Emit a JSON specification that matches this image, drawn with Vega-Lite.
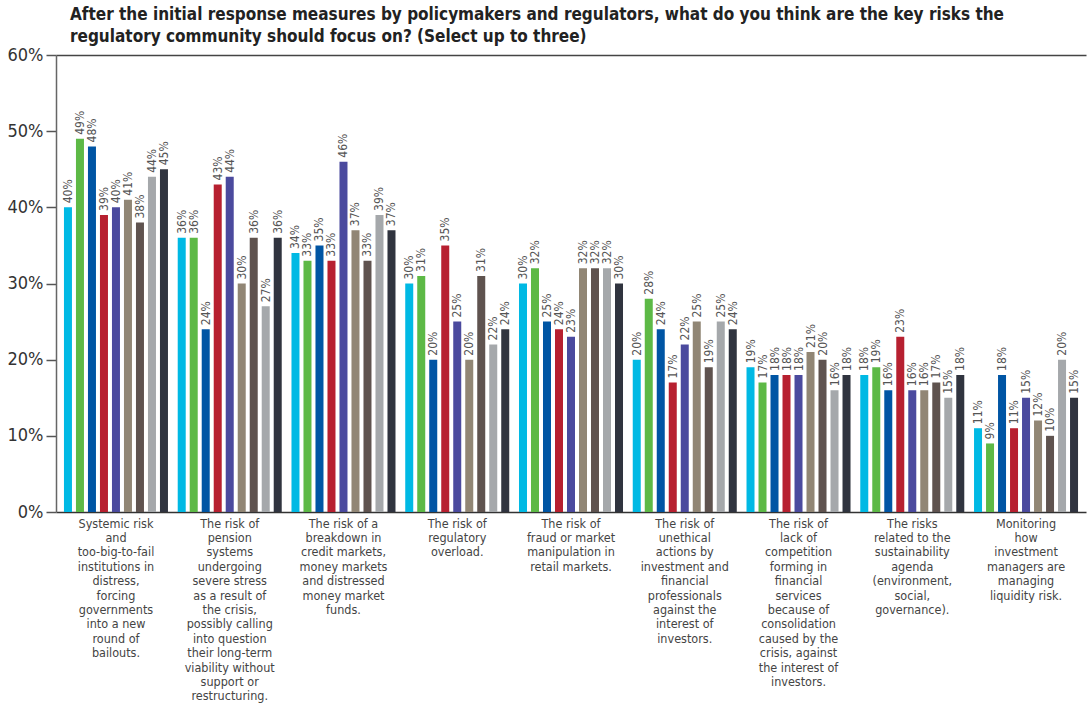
{
  "$schema": "https://vega.github.io/schema/vega-lite/v6.json",
  "width": 1030,
  "height": 457,
  "autosize": {"type": "none"},
  "padding": {"left": 56, "top": 55, "right": 1, "bottom": 194},
  "background": "white",
  "title": {
    "text": ["After the initial response measures by policymakers and regulators, what do you think are the key risks the", "regulatory community should focus on? (Select up to three)"],
    "anchor": "start",
    "frame": "group",
    "dx": 14,
    "offset": 0,
    "font": "Liberation Sans Narrow, DejaVu Sans Condensed, Roboto",
    "fontSize": 17,
    "fontWeight": "bold",
    "color": "#222222",
    "lineHeight": 22
  },
  "config": {
    "view": {"stroke": null},
    "font": "Liberation Sans Narrow, DejaVu Sans Condensed, Roboto"
  },
  "data": {
    "values": [
      {"risk": "Systemic risk|and|too-big-to-fail|institutions in|distress,|forcing|governments|into a new|round of|bailouts.", "series": "S1", "value": 0.40},
      {"risk": "Systemic risk|and|too-big-to-fail|institutions in|distress,|forcing|governments|into a new|round of|bailouts.", "series": "S2", "value": 0.49},
      {"risk": "Systemic risk|and|too-big-to-fail|institutions in|distress,|forcing|governments|into a new|round of|bailouts.", "series": "S3", "value": 0.48},
      {"risk": "Systemic risk|and|too-big-to-fail|institutions in|distress,|forcing|governments|into a new|round of|bailouts.", "series": "S4", "value": 0.39},
      {"risk": "Systemic risk|and|too-big-to-fail|institutions in|distress,|forcing|governments|into a new|round of|bailouts.", "series": "S5", "value": 0.40},
      {"risk": "Systemic risk|and|too-big-to-fail|institutions in|distress,|forcing|governments|into a new|round of|bailouts.", "series": "S6", "value": 0.41},
      {"risk": "Systemic risk|and|too-big-to-fail|institutions in|distress,|forcing|governments|into a new|round of|bailouts.", "series": "S7", "value": 0.38},
      {"risk": "Systemic risk|and|too-big-to-fail|institutions in|distress,|forcing|governments|into a new|round of|bailouts.", "series": "S8", "value": 0.44},
      {"risk": "Systemic risk|and|too-big-to-fail|institutions in|distress,|forcing|governments|into a new|round of|bailouts.", "series": "S9", "value": 0.45},
      {"risk": "The risk of|pension|systems|undergoing|severe stress|as a result of|the crisis,|possibly calling|into question|their long-term|viability without|support or|restructuring.", "series": "S1", "value": 0.36},
      {"risk": "The risk of|pension|systems|undergoing|severe stress|as a result of|the crisis,|possibly calling|into question|their long-term|viability without|support or|restructuring.", "series": "S2", "value": 0.36},
      {"risk": "The risk of|pension|systems|undergoing|severe stress|as a result of|the crisis,|possibly calling|into question|their long-term|viability without|support or|restructuring.", "series": "S3", "value": 0.24},
      {"risk": "The risk of|pension|systems|undergoing|severe stress|as a result of|the crisis,|possibly calling|into question|their long-term|viability without|support or|restructuring.", "series": "S4", "value": 0.43},
      {"risk": "The risk of|pension|systems|undergoing|severe stress|as a result of|the crisis,|possibly calling|into question|their long-term|viability without|support or|restructuring.", "series": "S5", "value": 0.44},
      {"risk": "The risk of|pension|systems|undergoing|severe stress|as a result of|the crisis,|possibly calling|into question|their long-term|viability without|support or|restructuring.", "series": "S6", "value": 0.30},
      {"risk": "The risk of|pension|systems|undergoing|severe stress|as a result of|the crisis,|possibly calling|into question|their long-term|viability without|support or|restructuring.", "series": "S7", "value": 0.36},
      {"risk": "The risk of|pension|systems|undergoing|severe stress|as a result of|the crisis,|possibly calling|into question|their long-term|viability without|support or|restructuring.", "series": "S8", "value": 0.27},
      {"risk": "The risk of|pension|systems|undergoing|severe stress|as a result of|the crisis,|possibly calling|into question|their long-term|viability without|support or|restructuring.", "series": "S9", "value": 0.36},
      {"risk": "The risk of a|breakdown in|credit markets,|money markets|and distressed|money market|funds.", "series": "S1", "value": 0.34},
      {"risk": "The risk of a|breakdown in|credit markets,|money markets|and distressed|money market|funds.", "series": "S2", "value": 0.33},
      {"risk": "The risk of a|breakdown in|credit markets,|money markets|and distressed|money market|funds.", "series": "S3", "value": 0.35},
      {"risk": "The risk of a|breakdown in|credit markets,|money markets|and distressed|money market|funds.", "series": "S4", "value": 0.33},
      {"risk": "The risk of a|breakdown in|credit markets,|money markets|and distressed|money market|funds.", "series": "S5", "value": 0.46},
      {"risk": "The risk of a|breakdown in|credit markets,|money markets|and distressed|money market|funds.", "series": "S6", "value": 0.37},
      {"risk": "The risk of a|breakdown in|credit markets,|money markets|and distressed|money market|funds.", "series": "S7", "value": 0.33},
      {"risk": "The risk of a|breakdown in|credit markets,|money markets|and distressed|money market|funds.", "series": "S8", "value": 0.39},
      {"risk": "The risk of a|breakdown in|credit markets,|money markets|and distressed|money market|funds.", "series": "S9", "value": 0.37},
      {"risk": "The risk of|regulatory|overload.", "series": "S1", "value": 0.30},
      {"risk": "The risk of|regulatory|overload.", "series": "S2", "value": 0.31},
      {"risk": "The risk of|regulatory|overload.", "series": "S3", "value": 0.20},
      {"risk": "The risk of|regulatory|overload.", "series": "S4", "value": 0.35},
      {"risk": "The risk of|regulatory|overload.", "series": "S5", "value": 0.25},
      {"risk": "The risk of|regulatory|overload.", "series": "S6", "value": 0.20},
      {"risk": "The risk of|regulatory|overload.", "series": "S7", "value": 0.31},
      {"risk": "The risk of|regulatory|overload.", "series": "S8", "value": 0.22},
      {"risk": "The risk of|regulatory|overload.", "series": "S9", "value": 0.24},
      {"risk": "The risk of|fraud or market|manipulation in|retail markets.", "series": "S1", "value": 0.30},
      {"risk": "The risk of|fraud or market|manipulation in|retail markets.", "series": "S2", "value": 0.32},
      {"risk": "The risk of|fraud or market|manipulation in|retail markets.", "series": "S3", "value": 0.25},
      {"risk": "The risk of|fraud or market|manipulation in|retail markets.", "series": "S4", "value": 0.24},
      {"risk": "The risk of|fraud or market|manipulation in|retail markets.", "series": "S5", "value": 0.23},
      {"risk": "The risk of|fraud or market|manipulation in|retail markets.", "series": "S6", "value": 0.32},
      {"risk": "The risk of|fraud or market|manipulation in|retail markets.", "series": "S7", "value": 0.32},
      {"risk": "The risk of|fraud or market|manipulation in|retail markets.", "series": "S8", "value": 0.32},
      {"risk": "The risk of|fraud or market|manipulation in|retail markets.", "series": "S9", "value": 0.30},
      {"risk": "The risk of|unethical|actions by|investment and|financial|professionals|against the|interest of|investors.", "series": "S1", "value": 0.20},
      {"risk": "The risk of|unethical|actions by|investment and|financial|professionals|against the|interest of|investors.", "series": "S2", "value": 0.28},
      {"risk": "The risk of|unethical|actions by|investment and|financial|professionals|against the|interest of|investors.", "series": "S3", "value": 0.24},
      {"risk": "The risk of|unethical|actions by|investment and|financial|professionals|against the|interest of|investors.", "series": "S4", "value": 0.17},
      {"risk": "The risk of|unethical|actions by|investment and|financial|professionals|against the|interest of|investors.", "series": "S5", "value": 0.22},
      {"risk": "The risk of|unethical|actions by|investment and|financial|professionals|against the|interest of|investors.", "series": "S6", "value": 0.25},
      {"risk": "The risk of|unethical|actions by|investment and|financial|professionals|against the|interest of|investors.", "series": "S7", "value": 0.19},
      {"risk": "The risk of|unethical|actions by|investment and|financial|professionals|against the|interest of|investors.", "series": "S8", "value": 0.25},
      {"risk": "The risk of|unethical|actions by|investment and|financial|professionals|against the|interest of|investors.", "series": "S9", "value": 0.24},
      {"risk": "The risk of|lack of|competition|forming in|financial|services|because of|consolidation|caused by the|crisis, against|the interest of|investors.", "series": "S1", "value": 0.19},
      {"risk": "The risk of|lack of|competition|forming in|financial|services|because of|consolidation|caused by the|crisis, against|the interest of|investors.", "series": "S2", "value": 0.17},
      {"risk": "The risk of|lack of|competition|forming in|financial|services|because of|consolidation|caused by the|crisis, against|the interest of|investors.", "series": "S3", "value": 0.18},
      {"risk": "The risk of|lack of|competition|forming in|financial|services|because of|consolidation|caused by the|crisis, against|the interest of|investors.", "series": "S4", "value": 0.18},
      {"risk": "The risk of|lack of|competition|forming in|financial|services|because of|consolidation|caused by the|crisis, against|the interest of|investors.", "series": "S5", "value": 0.18},
      {"risk": "The risk of|lack of|competition|forming in|financial|services|because of|consolidation|caused by the|crisis, against|the interest of|investors.", "series": "S6", "value": 0.21},
      {"risk": "The risk of|lack of|competition|forming in|financial|services|because of|consolidation|caused by the|crisis, against|the interest of|investors.", "series": "S7", "value": 0.20},
      {"risk": "The risk of|lack of|competition|forming in|financial|services|because of|consolidation|caused by the|crisis, against|the interest of|investors.", "series": "S8", "value": 0.16},
      {"risk": "The risk of|lack of|competition|forming in|financial|services|because of|consolidation|caused by the|crisis, against|the interest of|investors.", "series": "S9", "value": 0.18},
      {"risk": "The risks|related to the|sustainability|agenda|(environment,|social,|governance).", "series": "S1", "value": 0.18},
      {"risk": "The risks|related to the|sustainability|agenda|(environment,|social,|governance).", "series": "S2", "value": 0.19},
      {"risk": "The risks|related to the|sustainability|agenda|(environment,|social,|governance).", "series": "S3", "value": 0.16},
      {"risk": "The risks|related to the|sustainability|agenda|(environment,|social,|governance).", "series": "S4", "value": 0.23},
      {"risk": "The risks|related to the|sustainability|agenda|(environment,|social,|governance).", "series": "S5", "value": 0.16},
      {"risk": "The risks|related to the|sustainability|agenda|(environment,|social,|governance).", "series": "S6", "value": 0.16},
      {"risk": "The risks|related to the|sustainability|agenda|(environment,|social,|governance).", "series": "S7", "value": 0.17},
      {"risk": "The risks|related to the|sustainability|agenda|(environment,|social,|governance).", "series": "S8", "value": 0.15},
      {"risk": "The risks|related to the|sustainability|agenda|(environment,|social,|governance).", "series": "S9", "value": 0.18},
      {"risk": "Monitoring|how|investment|managers are|managing|liquidity risk.", "series": "S1", "value": 0.11},
      {"risk": "Monitoring|how|investment|managers are|managing|liquidity risk.", "series": "S2", "value": 0.09},
      {"risk": "Monitoring|how|investment|managers are|managing|liquidity risk.", "series": "S3", "value": 0.18},
      {"risk": "Monitoring|how|investment|managers are|managing|liquidity risk.", "series": "S4", "value": 0.11},
      {"risk": "Monitoring|how|investment|managers are|managing|liquidity risk.", "series": "S5", "value": 0.15},
      {"risk": "Monitoring|how|investment|managers are|managing|liquidity risk.", "series": "S6", "value": 0.12},
      {"risk": "Monitoring|how|investment|managers are|managing|liquidity risk.", "series": "S7", "value": 0.10},
      {"risk": "Monitoring|how|investment|managers are|managing|liquidity risk.", "series": "S8", "value": 0.20},
      {"risk": "Monitoring|how|investment|managers are|managing|liquidity risk.", "series": "S9", "value": 0.15}
    ]
  },
  "encoding": {
    "x": {
      "field": "risk",
      "type": "nominal",
      "sort": null,
      "scale": {"paddingInner": 0.0857, "paddingOuter": 0.07},
      "axis": {
        "title": null,
        "labelAngle": 0,
        "labelExpr": "split(datum.value, '|')",
        "labelAlign": "center",
        "labelBaseline": "top",
        "labelFontSize": 12.5,
        "labelLineHeight": 14.4,
        "labelColor": "#444444",
        "labelPadding": 5,
        "labelLimit": 0,
        "ticks": false,
        "domainColor": "#333333",
        "domainWidth": 1.5
      }
    },
    "xOffset": {
      "field": "series",
      "type": "nominal",
      "scale": {"paddingInner": 0.333, "paddingOuter": 0}
    },
    "y": {
      "field": "value",
      "type": "quantitative",
      "scale": {"domain": [0, 0.6]},
      "axis": {
        "title": null,
        "format": ".0%",
        "values": [0, 0.1, 0.2, 0.3, 0.4, 0.5, 0.6],
        "labelFontSize": 18,
        "labelColor": "#333333",
        "labelPadding": 3,
        "tickSize": 10,
        "tickColor": "#555555",
        "tickWidth": 1.5,
        "domainColor": "#666666",
        "domainWidth": 1.5,
        "grid": true,
        "gridColor": {"condition": {"test": "datum.value > 0.59", "value": "#444444"}, "value": "transparent"},
        "gridWidth": 1.5
      }
    }
  },
  "layer": [
    {
      "mark": {"type": "bar"},
      "encoding": {
        "color": {
          "field": "series",
          "type": "nominal",
          "legend": null,
          "scale": {
            "domain": ["S1", "S2", "S3", "S4", "S5", "S6", "S7", "S8", "S9"],
            "range": ["#00B9E4", "#5DB946", "#0055A4", "#B72030", "#4B4A9E", "#918675", "#5F534F", "#A5A8AB", "#30343F"]
          }
        }
      }
    },
    {
      "mark": {"type": "text", "angle": 270, "align": "left", "baseline": "middle", "dx": 4, "fontSize": 12, "color": "#555555"},
      "encoding": {
        "text": {"field": "value", "type": "quantitative", "format": ".0%"}
      }
    }
  ]
}
